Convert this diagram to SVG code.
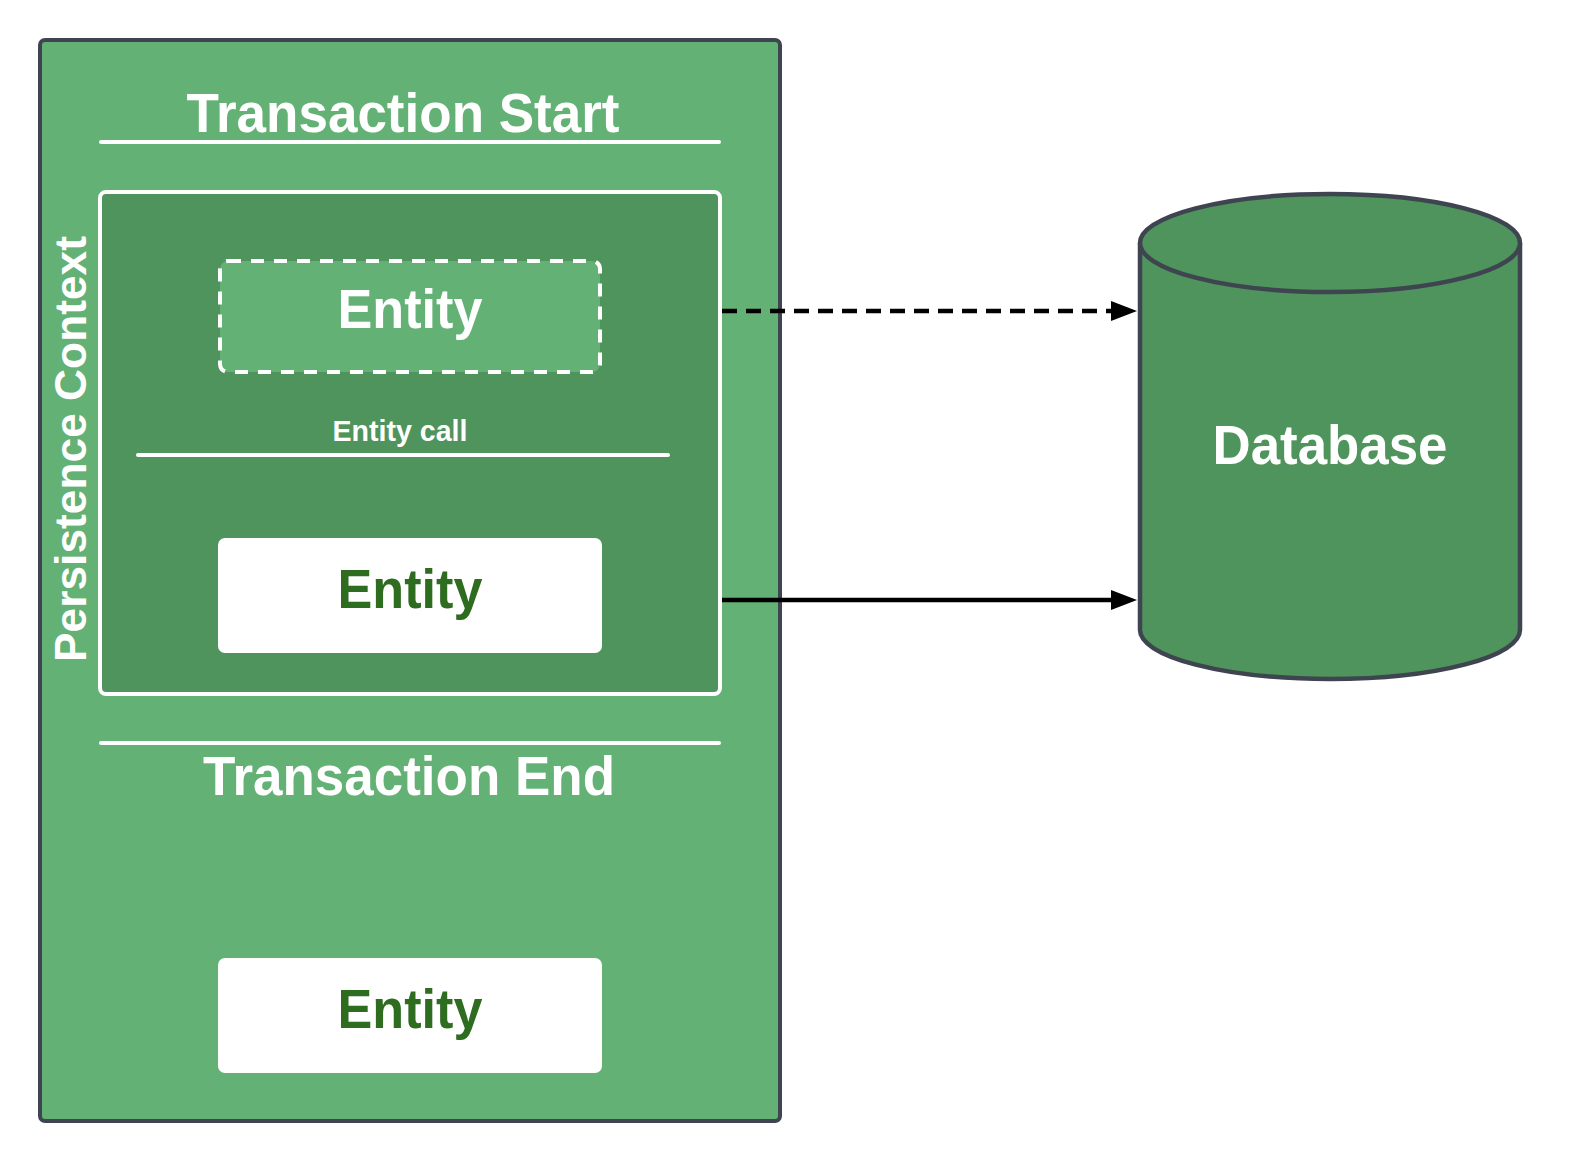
<svg xmlns="http://www.w3.org/2000/svg" width="1593" height="1160" viewBox="0 0 1593 1160">
<style>
.t{font-family:"Liberation Sans",Arial,sans-serif;font-weight:bold;text-anchor:middle}
.w{fill:#ffffff}
.g{fill:#2e6c20}
.wl{stroke:#ffffff;stroke-width:4;stroke-linecap:round;fill:none}
.conn{stroke:#000000;stroke-width:4.5;fill:none}
</style>
<defs>
<marker id="ah" markerWidth="28" markerHeight="22" refX="2" refY="10" orient="auto" markerUnits="userSpaceOnUse">
<path d="M0,0 L26,10 L0,20 Z" fill="#000000"/>
</marker>
</defs>
<rect width="1593" height="1160" fill="#ffffff"/>
<g id="transaction">
<rect x="40" y="40" width="740" height="1081" rx="5" fill="#64b175" stroke="#3e4450" stroke-width="4"/>
<text class="t w" x="403" y="132" font-size="56" textLength="433" lengthAdjust="spacingAndGlyphs">Transaction Start</text>
<line class="wl" x1="101" y1="142" x2="719" y2="142"/>
<line class="wl" x1="101" y1="743" x2="719" y2="743"/>
<text class="t w" x="409" y="795" font-size="56" textLength="412" lengthAdjust="spacingAndGlyphs">Transaction End</text>
</g>
<g id="persistence-context">
<rect x="100" y="192" width="620" height="502" rx="6" fill="#4f945c" stroke="#ffffff" stroke-width="4"/>
<text class="t w" transform="translate(86,449) rotate(-90)" font-size="45" textLength="426" lengthAdjust="spacingAndGlyphs">Persistence Context</text>
<text class="t w" x="400" y="441" font-size="29" textLength="135" lengthAdjust="spacingAndGlyphs">Entity call</text>
<line class="wl" x1="138" y1="455" x2="668" y2="455"/>
</g>
<g id="entity-detached">
<rect x="220" y="261" width="380" height="111" rx="8" fill="#64b175" stroke="#ffffff" stroke-width="4" stroke-dasharray="13 10"/>
<text class="t w" x="410" y="328" font-size="56" textLength="145" lengthAdjust="spacingAndGlyphs">Entity</text>
</g>
<g id="entity-managed">
<rect x="218" y="538" width="384" height="115" rx="7" fill="#ffffff"/>
<text class="t g" x="410" y="608" font-size="56" textLength="145" lengthAdjust="spacingAndGlyphs">Entity</text>
</g>
<g id="entity-after">
<rect x="218" y="958" width="384" height="115" rx="7" fill="#ffffff"/>
<text class="t g" x="410" y="1028" font-size="56" textLength="145" lengthAdjust="spacingAndGlyphs">Entity</text>
</g>
<g id="database">
<path d="M1140,243 L1140,630 A190,49 0 0 0 1520,630 L1520,243" fill="#4f945c" stroke="#3e4450" stroke-width="4.5"/>
<ellipse cx="1330" cy="243" rx="190" ry="49" fill="#4f945c" stroke="#3e4450" stroke-width="4.5"/>
<text class="t w" x="1330" y="464" font-size="55" textLength="235" lengthAdjust="spacingAndGlyphs">Database</text>
</g>
<g id="connectors">
<line class="conn" x1="722" y1="311" x2="1113" y2="311" stroke-dasharray="15 9" marker-end="url(#ah)"/>
<line class="conn" x1="722" y1="600" x2="1113" y2="600" marker-end="url(#ah)"/>
</g>
</svg>
